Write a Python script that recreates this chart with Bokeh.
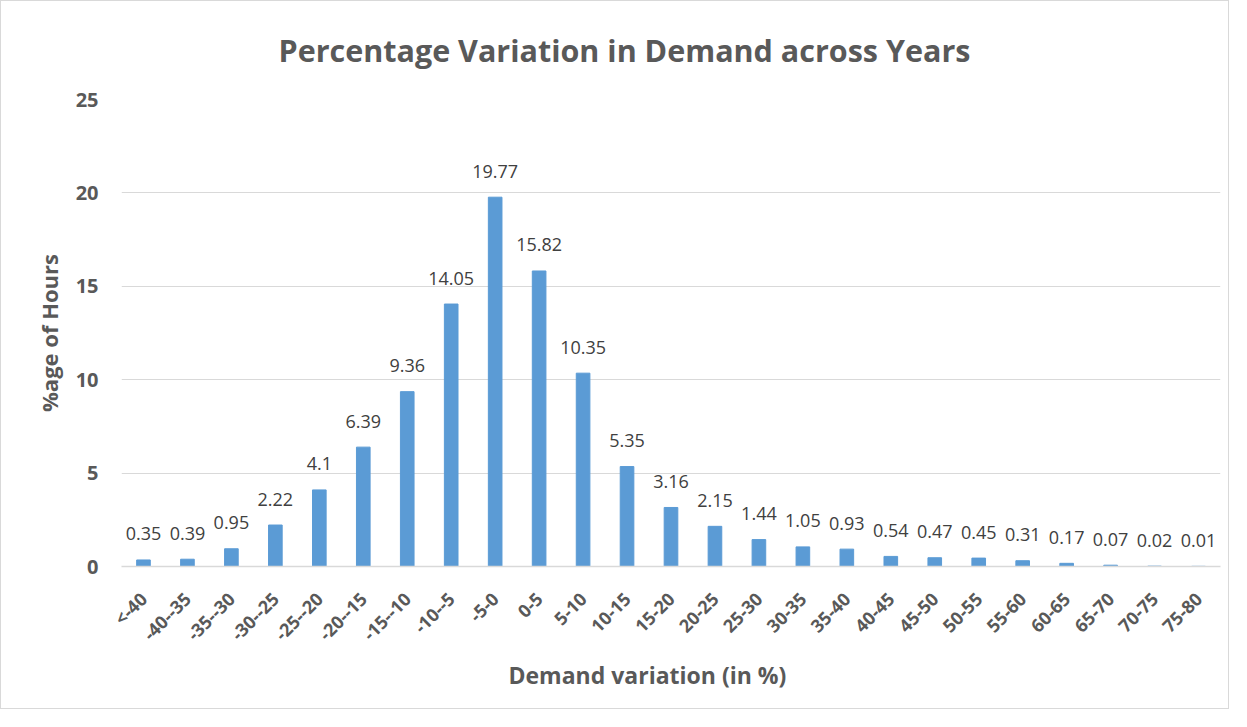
import math
from bokeh.plotting import figure
from bokeh.models import Range1d, FactorRange, ColumnDataSource, Title, FixedTicker
from bokeh.embed import file_html
from bokeh.resources import INLINE
from bokeh.core.properties import value

categories = ["<-40", "-40--35", "-35--30", "-30--25", "-25--20", "-20--15", "-15--10",
              "-10--5", "-5-0", "0-5", "5-10", "10-15", "15-20", "20-25", "25-30", "30-35",
              "35-40", "40-45", "45-50", "50-55", "55-60", "60-65", "65-70", "70-75", "75-80"]
values = [0.35, 0.39, 0.95, 2.22, 4.1, 6.39, 9.36, 14.05, 19.77, 15.82, 10.35, 5.35, 3.16,
          2.15, 1.44, 1.05, 0.93, 0.54, 0.47, 0.45, 0.31, 0.17, 0.07, 0.02, 0.01]
y_ticks = [0, 5, 10, 15, 20, 25]

title_text = "Percentage Variation in Demand across Years"
x_label = "Demand variation (in %)"
y_label = "%age of Hours"

FONT = "Open Sans"
GRAY = "#595959"

src = ColumnDataSource(dict(cat=categories, val=values, lbl=[str(v) for v in values]))

p = figure(width=1229, height=709,
           x_range=FactorRange(*categories, range_padding=0),
           y_range=Range1d(0, 25),
           output_backend="svg", toolbar_location=None,
           min_border_left=120, min_border_right=10,
           min_border_top=98, min_border_bottom=144)
p.styles = {"border": "1px solid #d9d9d9"}

p.vbar(x="cat", top="val", width=0.31, color="#5B9BD5", source=src)
p.text(x="cat", y="val", text="lbl", source=src, text_align="center",
       text_baseline="alphabetic", y_offset=-26, text_font=value(FONT),
       text_font_size="18px", text_color="#404040")

p.outline_line_color = None
p.xgrid.visible = False
p.ygrid.ticker = FixedTicker(ticks=y_ticks)
p.ygrid.grid_line_color = "#d9d9d9"
p.ygrid.grid_line_width = 1

p.yaxis.ticker = FixedTicker(ticks=y_ticks)
p.yaxis.axis_line_color = None
p.yaxis.major_tick_line_color = None
p.yaxis.minor_tick_line_color = None
p.yaxis.major_label_standoff = 17
p.yaxis.major_label_text_font = FONT
p.yaxis.major_label_text_font_style = "bold"
p.yaxis.major_label_text_font_size = "20px"
p.yaxis.major_label_text_color = GRAY
p.yaxis.axis_label = y_label
p.yaxis.axis_label_standoff = 9
p.yaxis.axis_label_text_font = FONT
p.yaxis.axis_label_text_font_style = "bold"
p.yaxis.axis_label_text_font_size = "22px"
p.yaxis.axis_label_text_color = GRAY

p.xaxis.axis_line_color = "#d9d9d9"
p.xaxis.axis_line_width = 1.5
p.xaxis.major_tick_line_color = None
p.xaxis.minor_tick_line_color = None
p.xaxis.major_label_orientation = math.pi / 4
p.xaxis.major_label_standoff = 23
p.xaxis.major_label_text_font = FONT
p.xaxis.major_label_text_font_style = "bold"
p.xaxis.major_label_text_font_size = "18px"
p.xaxis.major_label_text_color = GRAY

p.title.text = title_text
p.title.align = "left"
p.title.offset = 157
p.title.vertical_align = "top"
p.title.standoff = 53
p.title.text_font = FONT
p.title.text_font_style = "bold"
p.title.text_font_size = "30.5px"
p.title.text_color = GRAY

xt = Title(text=x_label, align="left", offset=387, standoff=0,
           text_font=FONT, text_font_style="bold", text_font_size="23px",
           text_color=GRAY)
p.add_layout(xt, "below")

open("out.html", "w").write(file_html(p, INLINE))
